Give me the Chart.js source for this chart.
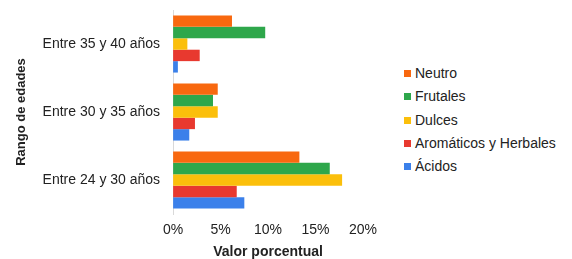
<!DOCTYPE html>
<html>
<head>
<meta charset="utf-8">
<script src="https://cdn.jsdelivr.net/npm/chart.js@4/dist/chart.umd.min.js"></script>
<style>
    html, body { margin: 0; padding: 0; background: #fff; }
    #wrap { position: relative; width: 572px; height: 259px; font-family: 'Liberation Sans', Arial, sans-serif; }
    #box { position: absolute; left: 0; top: 0; width: 385px; height: 259px; }
    #legend { position: absolute; left: 404px; top: 63px; list-style: none; margin: 0; padding: 0; font-size: 14px; color: #222; }
    #legend li { height: 23.3px; line-height: 20px; white-space: nowrap; }
    #legend span { display: inline-block; width: 7px; height: 7px; margin-right: 4px; vertical-align: 1px; }
</style>
</head>
<body>
<div id="wrap">
    <div id="box"><canvas id="chart"></canvas></div>
    <ul id="legend"></ul>
</div>
<script>
const ageGroups = ['Entre 35 y 40 años', 'Entre 30 y 35 años', 'Entre 24 y 30 años'];
const seriesNames = ['Neutro', 'Frutales', 'Dulces', 'Aromáticos y Herbales', 'Ácidos'];
const seriesColors = ['#f8680f', '#2ea74b', '#fbbf0b', '#e8392f', '#3b80ea'];

const neutro = [6.2, 4.7, 13.3];
const frutales = [9.7, 4.2, 16.5];
const dulces = [1.5, 4.7, 17.8];
const aromaticos = [2.8, 2.3, 6.7];
const acidos = [0.5, 1.7, 7.5];

const xTicks = [0, 5, 10, 15, 20];

const seriesValues = [neutro, frutales, dulces, aromaticos, acidos];

const datasets = seriesNames.map((name, i) => ({
    label: name,
    data: seriesValues[i],
    backgroundColor: seriesColors[i],
    borderWidth: 0,
    categoryPercentage: 0.84,
    barPercentage: 1.0,
}));

// html legend, same order as the bars
const legendEl = document.getElementById('legend');
seriesNames.forEach((name, i) => {
    const li = document.createElement('li');
    li.innerHTML = `<span style="background:${seriesColors[i]}"></span>${name}`;
    legendEl.appendChild(li);
});

Chart.defaults.font.family = "'Liberation Sans', Arial, sans-serif";
Chart.defaults.font.size = 14;
Chart.defaults.color = '#222';

new Chart(document.getElementById('chart'), {
    type: 'bar',
    data: { labels: ageGroups, datasets },
    options: {
        indexAxis: 'y',
        responsive: true,
        maintainAspectRatio: false,
        animation: false,
        layout: { padding: { top: 10, right: 22, bottom: 0, left: 12 } },
        plugins: {
            legend: { display: false },
            tooltip: { enabled: false },
        },
        scales: {
            x: {
                min: 0,
                max: 20,
                afterBuildTicks: (axis) => { axis.ticks = xTicks.map((v) => ({ value: v })); },
                ticks: { callback: (v) => v + '%', padding: 8 },
                grid: { display: false, drawTicks: false },
                border: { display: false },
                title: { display: true, text: 'Valor porcentual', font: { weight: 'bold', size: 14 }, padding: { top: 2, bottom: -2 } },
                afterFit: (scale) => { scale.height = 45; },
            },
            y: {
                ticks: { padding: 13 },
                grid: { display: false, drawTicks: false },
                border: { display: true, color: '#d9d9d9', width: 1 },
                title: { display: true, text: 'Rango de edades', font: { weight: 'bold', size: 13 }, padding: { top: 2, bottom: 0 } },
                // tick padding should not push the plot down
                afterFit: (scale) => { scale.paddingTop = 0; scale.paddingBottom = 0; },
            },
        },
    },
});
</script>
</body>
</html>
